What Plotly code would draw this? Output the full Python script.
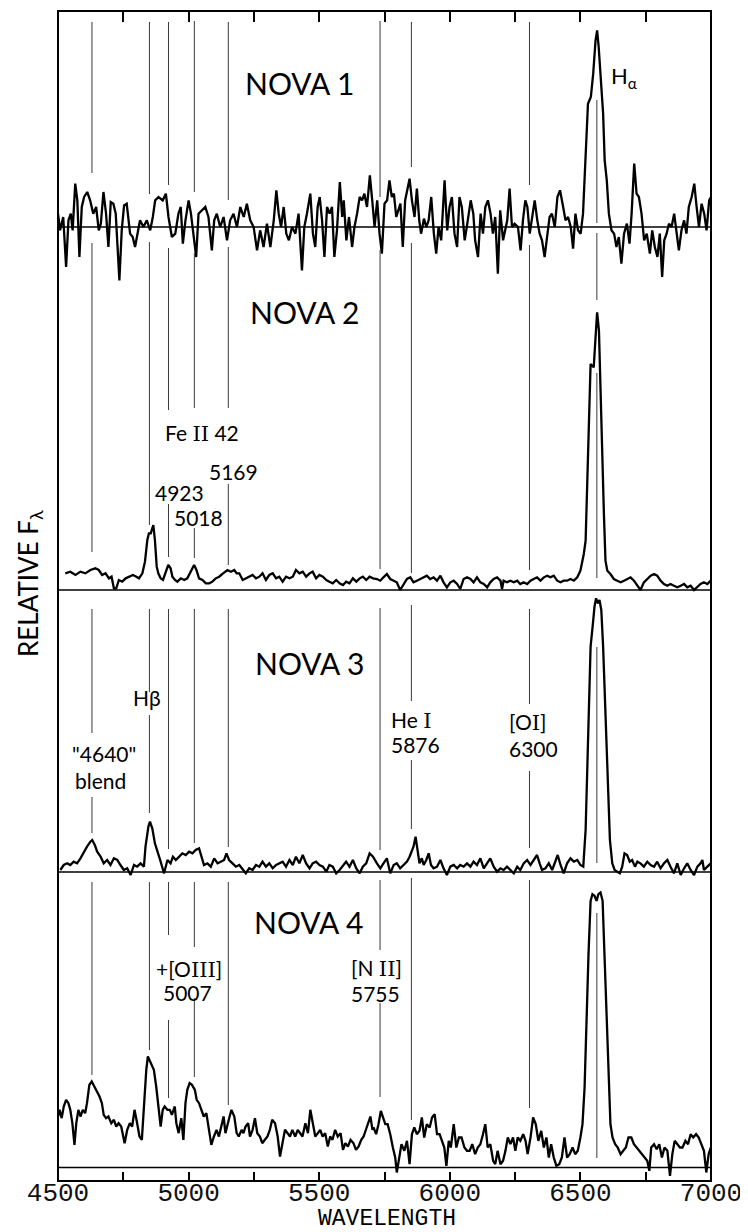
import plotly.graph_objects as go

# ---------------- data ----------------
# relative flux above each panel's zero line (arbitrary units)
nova1_wl = [4500,4508,4520,4531,4540,4549,4556,4566,4574,4582,4591,4600,4612,4623,4635,4646,4656,4664,4674,4684,
            4693,4702,4712,4721,4735,4744,4753,4763,4776,4786,4795,4804,4814,4827,4840,4853,4863,4872,4885,4901,
            4913,4923,4936,4949,4961,4970,4978,4988,5000,5009,5019,5029,5038,5051,5064,5076,5089,5098,5108,5121,
            5134,5147,5159,5172,5185,5198,5211,5223,5236,5249,5262,5274,5287,5300,5313,5326,5336,5345,5354,5364,
            5374,5384,5396,5409,5421,5434,5443,5453,5466,5476,5485,5494,5502,5511,5520,5530,5540,5549,5558,5568,
            5579,5588,5594,5604,5614,5626,5635,5645,5655,5664,5673,5683,5694,5703,
            5712,5722,5731,5740,5750,5760,5769,5778,5786,5795,5804,5811,5820,5829,5837,5846,5855,5865,5874,5883,
            5890,5901,5910,5919,5929,5939,5948,5957,5967,5980,5990,5999,6008,6018,6028,6037,6046,6057,6067,6080,
            6090,6097,6108,6118,6127,6136,6146,6156,6165,6174,6184,6193,6204,6212,6220,6229,6238,6248,6261,6271,
            6280,6289,6297,6306,6315,6325,6335,6344,6353,6363,6374,6382,6391,6402,6412,6422,6434,6443,6453,6463,
            6472,6481,6491,6501,6510,6519,6529,6540,6549,6558,6564,6570,6578,6587,6593,6601,6609,6619,6629,6638,
            6647,6657,6667,6678,6688,6696,6706,6715,6724,6734,6744,6754,6766,6775,6785,6795,6804,6813,6821,6830,
            6839,6849,6859,6868,6877,6887,6897,6906,6915,6926,6936,6945,6954,6964,6974,6983,6993,7000]
nova1_flux = [40,-10,30,-120,20,40,-10,130,80,-90,60,90,105,80,40,60,-10,10,105,40,
              -60,75,70,40,-160,-10,65,70,-20,-30,-60,-20,20,0,20,-10,30,80,90,80,
              100,30,-30,-20,40,60,-50,20,80,40,-20,-90,40,50,60,30,-70,20,40,0,
              30,-40,20,40,0,60,30,70,20,0,-70,-10,-60,10,-60,20,110,40,0,60,
              -20,-40,0,-20,40,-130,0,40,100,-20,-60,60,90,20,-90,60,40,60,-90,-10,
              135,30,80,-40,30,-60,0,40,90,80,100,60,155,80,
              0,80,-20,-80,70,80,140,90,100,30,50,70,-60,80,110,145,80,30,115,20,
              -20,25,0,20,90,-20,-80,0,-40,140,-10,60,90,-20,-60,90,60,-40,10,80,
              40,-40,-90,40,-20,60,80,40,-20,30,-140,50,-40,-10,20,115,0,10,0,-70,
              20,80,60,-20,30,80,20,-20,-40,-90,-20,30,40,0,90,110,60,20,30,0,
              -65,40,-10,-20,40,180,370,390,460,560,590,540,440,340,200,140,40,-10,-20,-60,
              -30,-110,-20,10,-50,40,190,100,90,40,-40,-20,-80,-10,-60,-90,-20,-150,-40,-20,
              10,0,40,-20,-70,-10,20,-20,60,90,130,60,0,70,40,-10,80,90]

nova2_wl = [4528,4547,4567,4586,4605,4624,4643,4656,4669,4682,4695,4705,4714,4723,4733,4746,4759,4774,4787,4800,
            4810,4823,4833,4842,4848,4855,4861,4865,4871,4878,4884,4893,4902,4912,4922,4931,4938,4948,4957,4970,
            4983,4995,5008,5021,5030,5040,5053,5066,5079,5091,5104,5117,5132,5149,5162,5175,5184,5194,5207,5219,
            5232,5245,5258,5271,5283,5296,5309,5322,5335,5347,5360,5373,5386,5399,5411,5424,5437,5450,5463,5475,
            5488,5501,5514,5527,5539,5552,5565,5578,5591,5603,5616,5629,5642,5655,5667,5680,5693,5706,
            5721,5734,5746,5759,5772,5785,5797,5810,5823,5836,5849,5861,5874,5887,5900,5912,5925,5938,5951,5964,
            5976,5989,6002,6015,6028,6040,6053,6066,6079,6091,6104,6117,6130,6143,6155,6168,6181,6194,6200,6206,
            6219,6232,6245,6258,6270,6283,6296,6309,6321,6334,6347,6360,6373,6385,6398,6411,6424,6436,6449,6462,
            6475,6488,6500,6513,6520,6526,6532,6539,6545,6551,6558,6564,6571,6577,6583,6590,6596,6603,6615,6628,
            6641,6654,6667,6679,6692,6705,6718,6730,6743,6756,6769,6782,6794,6807,6820,6833,6845,6858,6871,6884,
            6897,6909,6922,6935,6948,6960,6973,6986,6999]
nova2_flux = [50,55,45,55,50,60,65,60,45,50,35,40,5,5,30,25,35,40,45,40,
              35,50,85,150,170,170,185,195,150,70,50,35,30,50,75,65,40,30,25,35,
              30,35,55,75,60,35,30,20,20,25,35,40,50,60,55,60,50,50,30,35,
              40,45,35,40,50,30,45,50,35,40,25,40,35,40,60,50,55,40,50,55,
              35,45,40,30,25,20,30,20,15,25,20,35,25,35,40,30,40,35,
              33,28,38,48,33,28,23,0,18,33,38,23,28,33,38,43,33,38,28,43,
              23,8,23,28,18,3,33,38,33,23,38,23,18,8,23,33,38,28,3,28,
              23,28,23,28,18,23,18,28,33,38,28,38,43,38,43,28,23,28,28,33,
              28,38,58,108,148,328,528,678,673,668,758,833,778,578,378,228,88,58,48,33,
              28,23,28,33,38,28,13,0,23,33,43,48,43,28,18,13,18,13,8,13,
              18,8,13,0,8,18,23,18,28]

nova3_wl = [4509,4522,4535,4547,4560,4573,4586,4599,4611,4624,4631,4641,4650,4663,4675,4688,4701,4714,4727,4739,
            4752,4765,4778,4791,4803,4816,4829,4835,4846,4852,4861,4871,4880,4893,4906,4919,4931,4940,4951,4963,
            4976,4989,5002,5015,5027,5040,5049,5059,5072,5085,5098,5111,5123,5136,5145,5155,5168,5181,5194,5207,
            5219,5232,5245,5258,5271,5283,5296,5309,5322,5335,5347,5360,5373,5386,5399,5411,5424,5437,5450,5463,
            5475,5488,5501,5514,5527,5539,5552,5565,5578,5591,5603,5616,5629,5642,5655,5667,5680,5693,5706,
            5721,5734,5746,5759,5772,5785,5797,5810,5823,5836,5846,5855,5861,5869,5877,5884,5893,5900,5910,5919,
            5928,5938,5951,5964,5976,5989,6002,6015,6028,6040,6053,6066,6079,6091,6104,6117,6130,6143,6155,6168,
            6181,6194,6206,6219,6232,6245,6258,6270,6283,6296,6309,6321,6334,6344,6353,6366,6379,6392,6405,6413,
            6424,6436,6449,6462,6475,6488,6500,6511,6520,6526,6532,6539,6548,6554,6560,6567,6573,6580,6587,6596,
            6605,6613,6622,6631,6641,6651,6660,6669,6679,6689,6698,6709,6718,6730,6743,6756,6769,6782,6794,6807,
            6820,6833,6845,6858,6871,6884,6897,6909,6922,6935,6948,6960,6967,6973,6986,6999]
nova3_flux = [6,21,26,21,31,26,41,61,76,91,96,81,61,46,26,36,21,41,36,21,
              6,11,-9,21,16,26,16,76,136,151,131,86,66,31,-4,36,26,46,36,46,
              56,51,61,56,66,71,46,21,26,16,41,26,31,36,56,36,26,16,21,6,
              -4,11,6,21,16,31,16,26,11,21,26,31,16,36,21,46,26,51,26,11,
              26,31,21,16,1,21,16,-4,6,21,31,16,36,11,-4,16,26,56,46,
              26,11,26,41,-4,21,26,11,21,31,46,61,76,106,66,26,41,21,36,56,
              21,11,16,36,11,-9,16,21,11,21,16,26,16,31,21,41,11,26,41,16,
              1,11,6,16,6,-4,16,6,26,36,21,36,51,26,6,11,26,6,31,51,
              21,-4,26,41,31,36,21,16,126,326,526,676,746,796,821,806,816,786,676,476,
              256,96,26,6,1,-4,16,56,51,31,36,16,31,26,16,31,21,16,31,11,
              26,36,16,-4,26,-9,11,26,6,-9,16,26,36,6,16,26]

nova4_wl = [4500,4506,4514,4522,4531,4540,4547,4555,4563,4570,4578,4586,4595,4604,4611,4620,4629,4640,4650,4659,
            4668,4675,4684,4693,4704,4714,4723,4732,4742,4755,4765,4775,4784,4793,4803,4812,4821,4829,4838,4844,
            4852,4860,4867,4876,4885,4893,4901,4908,4919,4928,4936,4947,4953,4962,4972,4980,4988,4995,5004,5013,
            5024,5031,5040,5049,5058,5068,5077,5087,5097,5107,5116,5126,5134,5141,5149,5157,5164,5175,5184,5192,
            5203,5210,5218,5228,5235,5245,5254,5263,5273,5282,5292,5302,5311,5320,5331,5341,5350,5359,5369,5379,
            5388,5397,5408,5418,5427,5436,5447,5457,5466,5475,5485,5495,5504,5513,5523,5533,5542,5551,5561,5571,
            5582,5591,5600,5610,5620,5631,5641,5651,5661,5670,5683,5696,5704,
            5708,5718,5727,5736,5744,5753,5762,5772,5782,5791,5797,5805,5815,5826,5836,5846,5855,5864,5874,5884,
            5893,5902,5912,5923,5932,5942,5951,5961,5970,5979,5987,5996,6004,6015,6025,6035,6045,6056,6066,6076,
            6086,6097,6107,6117,6127,6136,6145,6155,6166,6174,6183,6194,6204,6213,6222,6232,6242,6251,6260,6270,
            6281,6290,6298,6309,6319,6329,6339,6350,6360,6370,6379,6388,6398,6408,6419,6429,6439,6449,6459,6470,
            6480,6490,6500,6508,6516,6523,6531,6539,6546,6554,6562,6569,6577,6585,6592,6600,6608,6615,6623,6633,
            6643,6654,6664,6674,6684,6695,6705,6715,6725,6735,6746,6756,6764,6771,6782,6792,6802,6812,6822,6833,
            6843,6852,6861,6871,6881,6891,6902,6912,6922,6932,6943,6953,6963,6973,6982,6991,6999]
nova4_flux = [153,173,148,183,203,193,173,133,68,133,173,153,173,163,193,248,258,243,228,213,
              193,158,148,153,133,143,123,133,123,73,113,133,123,173,133,93,83,193,293,333,
              318,303,293,243,183,123,173,183,173,173,158,183,133,103,148,83,193,233,253,248,
              233,203,193,173,153,163,123,68,93,113,93,123,153,103,133,153,173,153,103,93,
              113,103,123,133,93,113,148,103,93,73,83,93,113,143,133,93,33,73,113,103,
              93,113,93,113,103,93,133,103,173,133,93,103,113,93,103,63,93,83,113,93,
              103,53,73,63,83,73,53,63,83,93,123,153,113,
              120,100,130,170,150,130,130,100,60,30,-15,30,70,50,80,10,100,120,100,110,
              150,90,130,120,150,160,100,100,80,60,5,80,60,130,60,90,90,60,50,50,
              70,40,60,70,100,130,60,70,20,10,50,10,20,50,90,70,90,50,90,80,
              100,80,40,90,150,130,80,110,60,90,30,70,30,5,10,30,90,30,40,60,
              40,50,90,130,240,440,640,800,820,815,800,820,825,800,640,440,240,130,90,70,
              60,40,50,60,90,90,70,60,50,40,30,20,-10,60,70,55,70,30,60,50,
              -25,40,80,70,60,60,80,70,100,90,100,90,70,50,-15,40,60]

spectra = [(nova1_wl, nova1_flux), (nova2_wl, nova2_flux), (nova3_wl, nova3_flux), (nova4_wl, nova4_flux)]

# marker-line wavelengths as placed on the figure
line_wl = [4630, 4850, 4923, 5022, 5152, 5733, 5853, 6305, 6563]

tick_vals = [4500, 5000, 5500, 6000, 6500, 7000]
tick_text = ["4500", "5000", "5500", "6000", "6500", "7000"]

# ---------------- layout helpers ----------------
PAGE_OFFSET = 8                          # default body margin of the html page
W, H = 748 - PAGE_OFFSET, 1232 - PAGE_OFFSET
L, R, T, B = 58, 711, 11, 1181           # plot area in page pixels
PW, PH = R - L, B - T


def px_x(x):
    return (x - L) / PW


def px_y(y):
    return (B - y) / PH


# panel vertical extents (page px) and zero-line position; 3 flux units per px
panels = [(11, 300, 227), (232, 600, 590), (592, 880, 872), (880, 1181, 1167.5)]
UNITS_PER_PX = 3.0

fig = go.Figure()
ynames = ["y", "y2", "y3", "y4"]
for i, (wl, fl) in enumerate(spectra):
    fig.add_trace(go.Scatter(x=wl, y=fl, mode="lines", xaxis="x", yaxis=ynames[i],
                             line=dict(color="black", width=2.3), showlegend=False,
                             hoverinfo="skip"))
# dummy trace so the top (mirror) axis is drawn
fig.add_trace(go.Scatter(x=[tick_vals[0], tick_vals[-1]], y=[None, None], xaxis="x2", yaxis="y",
                         mode="lines", showlegend=False, hoverinfo="skip"))

layout = dict(
    template="none",
    width=W, height=H,
    margin=dict(l=L - PAGE_OFFSET, r=W - (R - PAGE_OFFSET), t=T - PAGE_OFFSET,
                b=H - (B - PAGE_OFFSET), pad=0, autoexpand=False),
    paper_bgcolor="white", plot_bgcolor="rgba(0,0,0,0)",
    showlegend=False,
    xaxis=dict(range=[4500, 7000], anchor="y4", showgrid=False, zeroline=False, automargin=False,
               showline=False, ticks="inside", ticklen=9, tickwidth=1.5, tickcolor="black",
               tickvals=tick_vals, ticktext=tick_text, ticklabelstandoff=-7,
               minor=dict(dtick=250, tick0=4500, ticks="inside", ticklen=9, tickwidth=1.5,
                          tickcolor="black", showgrid=False),
               tickfont=dict(family="Liberation Mono", size=26, color="#111")),
    xaxis2=dict(range=[4500, 7000], overlaying="x", side="top", anchor="free", position=1,
                automargin=False, showgrid=False, zeroline=False, showline=False, ticks="inside",
                ticklen=10, tickwidth=1.5, tickcolor="black", dtick=250, tick0=4500,
                showticklabels=False),
)
for i, (top, bot, base) in enumerate(panels):
    key = "yaxis" if i == 0 else f"yaxis{i+1}"
    layout[key] = dict(domain=[px_y(bot), px_y(top)],
                       range=[-(bot - base) * UNITS_PER_PX, (base - top) * UNITS_PER_PX],
                       visible=False, anchor="x", fixedrange=True, automargin=False)
fig.update_layout(**layout)

shapes = []
# frame
shapes.append(dict(type="rect", xref="paper", yref="paper", x0=0, x1=1, y0=0, y1=1,
                   line=dict(color="black", width=2)))
# zero lines of each panel
for i in range(4):
    shapes.append(dict(type="line", xref="x", yref=ynames[i], x0=4500, x1=7000, y0=0, y1=0,
                       line=dict(color="black", width=1.6)))

# marker-line segments per panel: (index into line_wl, top px, bottom px)
segments = [
    [(0, 22, 173), (1, 22, 194), (2, 22, 185), (3, 21, 192), (4, 22, 200),
     (5, 21, 197), (6, 22, 167), (7, 22, 185), (8, 100, 223)],
    [(0, 243, 552), (1, 242, 525), (2, 248, 410), (2, 504, 557), (3, 253, 408), (3, 528, 558),
     (4, 247, 408), (4, 484, 565), (5, 250, 569), (6, 243, 573), (7, 245, 570),
     (8, 233, 300), (8, 373, 578)],
    [(0, 609, 733), (0, 797, 833), (1, 609, 692), (1, 715, 813), (2, 609, 849), (3, 609, 843),
     (4, 609, 847), (5, 608, 850), (6, 605, 701), (6, 760, 829), (7, 609, 704), (7, 771, 848),
     (8, 647, 863)],
    [(0, 882, 1075), (1, 882, 1050), (2, 882, 935), (2, 1020, 1098), (3, 882, 947), (3, 998, 1077),
     (4, 882, 1105), (5, 880, 950), (5, 1003, 1097), (6, 878, 1120), (7, 880, 1108), (8, 913, 1158)],
]
for seglist in segments:
    for idx, top, bot in seglist:
        shapes.append(dict(type="line", xref="x", yref="paper", x0=line_wl[idx], x1=line_wl[idx],
                           y0=px_y(bot), y1=px_y(top), line=dict(color="#3a3a3a", width=1)))
fig.update_layout(shapes=shapes)

LABEL_FONT = "Lato"
SERIF = "DejaVu Serif"


def ann(text, x, y, size, xanchor="left", angle=0, family=LABEL_FONT):
    return dict(text=text, x=px_x(x), y=px_y(y), xref="paper", yref="paper", showarrow=False,
                xanchor=xanchor, yanchor="middle", textangle=angle, borderpad=0,
                font=dict(family=family, size=size, color="black"))


def roman(s):
    return f"<span style='font-family:{SERIF}'>{s}</span>"


annotations = [
    ann("NOVA 1", 299, 83, 30, "center"),
    ann("NOVA 2", 304, 312, 30, "center"),
    ann("NOVA 3", 309, 663, 30, "center"),
    ann("NOVA 4", 308, 922, 30, "center"),
    ann("H<sub>α</sub>", 610, 77, 22),
    ann("Fe " + roman("II") + " 42", 164, 433, 21),
    ann("5169", 208, 471, 21),
    ann("4923", 154, 492, 21),
    ann("5018", 173, 517, 21),
    ann("Hβ", 132, 697, 21),
    ann("\"4640\"", 104, 753, 21, "center"),
    ann("blend", 100, 780, 21, "center"),
    ann("He " + roman("I"), 390, 720, 21),
    ann("5876", 390, 744, 21),
    ann("[O" + roman("I") + "]", 508, 722, 21),
    ann("6300", 508, 748, 21),
    ann("+[O" + roman("III") + "]", 155, 969, 21),
    ann("5007", 162, 992, 21),
    ann("[N " + roman("II") + "]", 350, 968, 21),
    ann("5755", 350, 993, 21),
    ann("WAVELENGTH", 387, 1219, 23, "center", family="Liberation Mono"),
    ann("RELATIVE F<sub>λ</sub>", 29, 584, 26, "center", angle=-90),
]
fig.update_layout(annotations=annotations)

fig.write_html("out.html")
